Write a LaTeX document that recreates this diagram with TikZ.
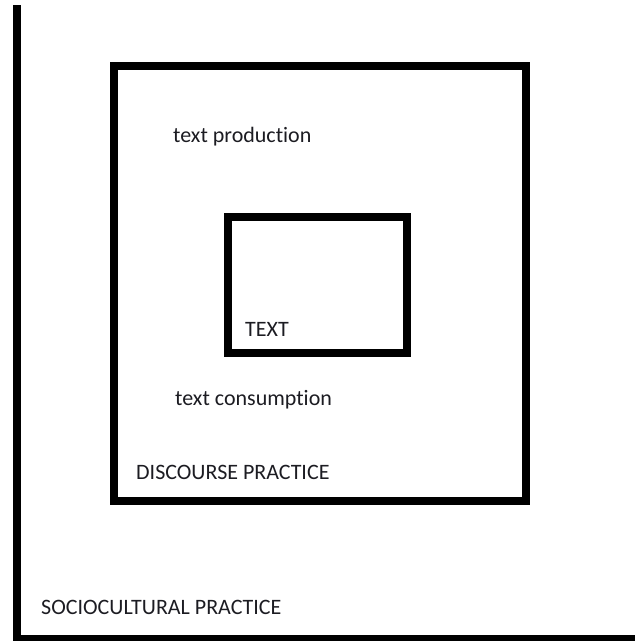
\documentclass[tikz,border=0pt]{standalone}
\usepackage{fontspec}
\setmainfont{Carlito}[Ligatures=NoCommon]
\usepackage{tikz}
\usetikzlibrary{positioning}
\definecolor{labelc}{HTML}{1C1C22}

\begin{document}
\begin{tikzpicture}[x=1pt, y=-1pt,
  frame/.style={draw=black, line width=8pt, inner sep=0pt},
  lbl/.style={font=\fontsize{22}{26}\selectfont, text=labelc, inner sep=0pt, anchor=west}]
  \useasboundingbox (0,0) rectangle (635,641);
  \coordinate (top) at (17,5);
  \coordinate (corner) at (17,638.5);
  \coordinate (end) at (640,638.5);
  \draw[line width=7.5pt] (top) -- (corner) -- (end);
  \node[frame, minimum width=412pt, minimum height=435pt] (disc) at (320,283.5) {};
  \node[frame, minimum width=179pt, minimum height=136pt] (txt) at (317,284.5) {};
  \node[lbl] (prod) at (173,137) {text production};
  \node[lbl] (txtlabel) at (245,329) {TEXT};
  \node[lbl] (cons) at (175,400) {text consumption};
  \node[lbl] (disclabel) at (136,472) {DISCOURSE PRACTICE};
  \node[lbl] (soclabel) at (41,607) {SOCIOCULTURAL PRACTICE};
\end{tikzpicture}
\end{document}
